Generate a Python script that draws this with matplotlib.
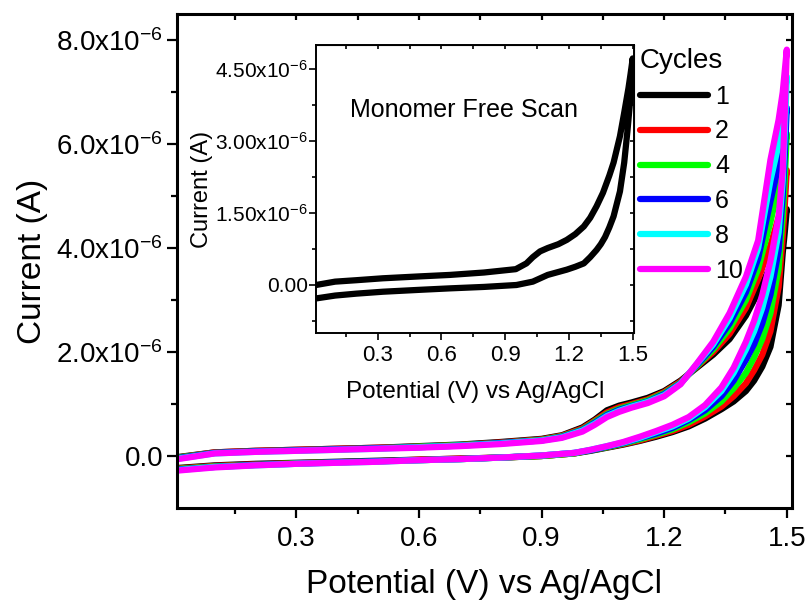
import matplotlib
matplotlib.use('Agg')
import matplotlib.pyplot as plt
import numpy as np

plt.rcParams['font.family'] = ['Liberation Sans', 'DejaVu Sans']
plt.rcParams['mathtext.fontset'] = 'custom'
plt.rcParams['mathtext.rm'] = 'Liberation Sans'
plt.rcParams['mathtext.it'] = 'Liberation Sans'
plt.rcParams['mathtext.default'] = 'regular'

# potentials (V) of the anodic and the return sweep
E_fwd = [0.01, 0.1, 0.2, 0.3, 0.4, 0.5, 0.6, 0.7, 0.8,
         0.9, 0.95, 1.0, 1.03, 1.06, 1.09, 1.12, 1.16,
         1.2, 1.24, 1.28, 1.32, 1.36, 1.40, 1.43, 1.46, 1.48, 1.49, 1.50]
E_rev = [1.50, 1.495, 1.49, 1.48, 1.46, 1.44, 1.42, 1.40, 1.37, 1.34, 1.30,
         1.26, 1.22, 1.18, 1.14, 1.10, 1.06, 1.02, 0.98, 0.9, 0.8, 0.7, 0.6,
         0.5, 0.4, 0.3, 0.2, 0.1, 0.01]

# current (uA) for each cycle
c1_fwd = [-0.02, 0.07, 0.10, 0.12, 0.14, 0.16, 0.19, 0.22, 0.27,
          0.33, 0.40, 0.55, 0.70, 0.88, 0.97, 1.03, 1.12,
          1.25, 1.45, 1.70, 1.95, 2.25, 2.70, 3.15, 3.65, 4.10, 4.40, 4.75]
c1_rev = [4.75, 4.3, 3.9, 2.9, 2.1, 1.72, 1.45, 1.25, 1.05, 0.9, 0.72,
          0.57, 0.46, 0.37, 0.29, 0.22, 0.16, 0.10, 0.05, 0.00, -0.03, -0.05,
          -0.07, -0.09, -0.11, -0.13, -0.15, -0.18, -0.23]
c2_fwd = [-0.03, 0.07, 0.10, 0.12, 0.14, 0.16, 0.18, 0.21, 0.26,
          0.32, 0.39, 0.53, 0.68, 0.84, 0.94, 1.00, 1.09,
          1.23, 1.43, 1.72, 2.00, 2.35, 2.85, 3.40, 4.05, 4.60, 5.00, 5.50]
c2_rev = [5.5, 4.8, 4.2, 3.25, 2.4, 1.95, 1.65, 1.4, 1.15, 0.95, 0.76,
          0.60, 0.48, 0.39, 0.30, 0.23, 0.17, 0.11, 0.05, 0.00, -0.03, -0.05,
          -0.07, -0.10, -0.12, -0.14, -0.16, -0.19, -0.24]
c4_fwd = [-0.03, 0.06, 0.09, 0.11, 0.13, 0.15, 0.18, 0.21, 0.25,
          0.31, 0.38, 0.51, 0.66, 0.81, 0.91, 0.98, 1.07,
          1.21, 1.41, 1.73, 2.05, 2.45, 3.00, 3.60, 4.50, 5.20, 5.65, 6.20]
c4_rev = [6.2, 5.3, 4.6, 3.6, 2.75, 2.25, 1.9, 1.6, 1.3, 1.05, 0.82,
          0.65, 0.51, 0.41, 0.32, 0.24, 0.17, 0.11, 0.05, 0.00, -0.03, -0.06,
          -0.08, -0.10, -0.12, -0.14, -0.17, -0.20, -0.25]
c6_fwd = [-0.04, 0.06, 0.09, 0.11, 0.13, 0.15, 0.17, 0.20, 0.25,
          0.30, 0.37, 0.50, 0.64, 0.79, 0.89, 0.96, 1.05,
          1.19, 1.40, 1.75, 2.10, 2.55, 3.15, 3.80, 4.90, 5.60, 6.10, 6.70]
c6_rev = [6.7, 5.8, 5.0, 3.95, 3.1, 2.55, 2.15, 1.85, 1.45, 1.15, 0.88,
          0.69, 0.54, 0.43, 0.34, 0.25, 0.18, 0.11, 0.06, 0.01, -0.03, -0.06,
          -0.08, -0.10, -0.12, -0.15, -0.17, -0.21, -0.26]
c8_fwd = [-0.05, 0.05, 0.08, 0.10, 0.12, 0.14, 0.17, 0.20, 0.24,
          0.30, 0.36, 0.49, 0.62, 0.77, 0.87, 0.95, 1.04,
          1.17, 1.39, 1.77, 2.15, 2.65, 3.30, 4.00, 5.30, 6.00, 6.60, 7.30]
c8_rev = [7.3, 6.2, 5.3, 4.3, 3.45, 2.85, 2.4, 2.05, 1.6, 1.25, 0.94,
          0.72, 0.57, 0.46, 0.35, 0.26, 0.19, 0.12, 0.06, 0.01, -0.03, -0.06,
          -0.08, -0.11, -0.13, -0.15, -0.18, -0.21, -0.27]
c10_fwd = [-0.06, 0.05, 0.08, 0.10, 0.12, 0.14, 0.16, 0.19, 0.23,
           0.29, 0.35, 0.47, 0.60, 0.75, 0.85, 0.93, 1.02,
           1.15, 1.38, 1.78, 2.20, 2.75, 3.45, 4.15, 5.70, 6.47, 7.00, 7.82]
c10_rev = [7.82, 6.6, 5.5, 4.6, 3.75, 3.1, 2.6, 2.2, 1.7, 1.32, 0.98,
           0.75, 0.60, 0.48, 0.37, 0.27, 0.19, 0.12, 0.06, 0.01, -0.03, -0.06,
           -0.08, -0.11, -0.13, -0.15, -0.18, -0.22, -0.28]

cycle_labels = ['1', '2', '4', '6', '8', '10']
cycle_colors = ['#000000', '#ff0000', '#00ff00', '#0000ff', '#00ffff', '#ff00ff']
cycles = [(c1_fwd, c1_rev), (c2_fwd, c2_rev), (c4_fwd, c4_rev),
          (c6_fwd, c6_rev), (c8_fwd, c8_rev), (c10_fwd, c10_rev)]

# monomer free scan (uA)
mono_E_fwd = [0.01, 0.1, 0.2, 0.325, 0.5, 0.64, 0.8, 0.95, 1.0, 1.03, 1.064,
              1.1, 1.15, 1.19, 1.23, 1.27, 1.30, 1.33, 1.36, 1.39, 1.41,
              1.44, 1.46, 1.48, 1.49, 1.5]
mono_I_fwd = [0.0, 0.07, 0.1, 0.14, 0.18, 0.21, 0.26, 0.33, 0.45, 0.58, 0.70,
              0.77, 0.85, 0.94, 1.06, 1.22, 1.40, 1.64, 1.92, 2.28, 2.55,
              3.1, 3.59, 4.1, 4.4, 4.72]
mono_E_rev = [1.5, 1.49, 1.475, 1.46, 1.44, 1.41, 1.39, 1.37, 1.35, 1.33,
              1.30, 1.27, 1.23, 1.19, 1.1, 1.03, 0.953, 0.8, 0.64, 0.5,
              0.325, 0.2, 0.1, 0.01]
mono_I_rev = [4.72, 3.94, 3.2, 2.55, 1.95, 1.43, 1.2, 1.0, 0.85, 0.73,
              0.58, 0.45, 0.38, 0.32, 0.21, 0.07, 0.0, -0.04, -0.07, -0.1,
              -0.14, -0.18, -0.22, -0.28]

x_ticks = [0.3, 0.6, 0.9, 1.2, 1.5]
x_labels = ['0.3', '0.6', '0.9', '1.2', '1.5']
x_minor = [0.15, 0.45, 0.75, 1.05, 1.35]
y_ticks = [0, 2e-6, 4e-6, 6e-6, 8e-6]
y_labels = ['0.0', '2.0x10$^{-6}$', '4.0x10$^{-6}$', '6.0x10$^{-6}$', '8.0x10$^{-6}$']
y_minor = [1e-6, 3e-6, 5e-6, 7e-6]
yin_ticks = [0, 1.5e-6, 3e-6, 4.5e-6]
yin_labels = ['0.00', '1.50x10$^{-6}$', '3.00x10$^{-6}$', '4.50x10$^{-6}$']
yin_minor = [-0.75e-6, 0.75e-6, 2.25e-6, 3.75e-6]

fig = plt.figure(figsize=(8.1, 6.08), dpi=100)
ax = fig.add_axes([0.2185, 0.1645, 0.7589, 0.812])

for (fwd, rev), lab, col in zip(cycles, cycle_labels, cycle_colors):
    E = E_fwd + E_rev
    I = np.array(fwd + rev) * 1e-6
    ax.plot(E, I, color=col, lw=4.5, label=lab,
            solid_capstyle='round', solid_joinstyle='round')

ax.set_xlim(0.008, 1.512)
ax.set_ylim(-1e-6, 8.5e-6)
ax.set_xticks(x_ticks, x_labels)
ax.set_xticks(x_minor, minor=True)
ax.set_yticks(y_ticks, y_labels)
ax.set_yticks(y_minor, minor=True)
ax.tick_params(which='both', direction='out', width=1.6, labelsize=20)
ax.tick_params(which='major', length=7)
ax.tick_params(which='minor', length=4)
ax.tick_params(axis='x', pad=6)
ax.tick_params(axis='y', pad=3)
for s in ax.spines.values():
    s.set_linewidth(2.2)
ax.set_xlabel('Potential (V) vs Ag/AgCl', fontsize=24)
ax.set_ylabel('Current (A)', fontsize=24)
ax.xaxis.set_label_coords(0.5, -0.123)
ax.yaxis.set_label_coords(-0.21, 0.5)

# mirrored ticks on top and right
top = ax.secondary_xaxis('top')
top.set_xticks(x_ticks, [])
top.set_xticks(x_minor, minor=True)
top.tick_params(which='both', direction='in', width=1.6, length=4)
right = ax.secondary_yaxis('right')
right.set_yticks(y_ticks, [])
right.set_yticks(y_minor, minor=True)
right.tick_params(which='both', direction='in', width=1.6, length=4)

leg = ax.legend(title='Cycles', frameon=False, fontsize=18, title_fontsize=20,
                handlelength=2.7, handletextpad=0.3, labelspacing=0.43,
                borderpad=0, borderaxespad=0, alignment='left', loc='upper left',
                bbox_to_anchor=(640 / 810, 1 - 48 / 608),
                bbox_transform=fig.transFigure)
for h in leg.legend_handles:
    h.set_linewidth(4.5)

# inset: monomer free scan
axi = fig.add_axes([0.3901, 0.4523, 0.3926, 0.4737])
axi.plot(mono_E_fwd + mono_E_rev, np.array(mono_I_fwd + mono_I_rev) * 1e-6,
         color='black', lw=4.5, solid_capstyle='round', solid_joinstyle='round')
axi.set_xlim(0.01, 1.506)
axi.set_ylim(-1e-6, 5e-6)
axi.set_xticks(x_ticks, x_labels)
axi.set_xticks(x_minor, minor=True)
axi.set_yticks(yin_ticks, yin_labels)
axi.set_yticks(yin_minor, minor=True)
axi.tick_params(which='both', direction='out', width=1.2, labelsize=16)
axi.tick_params(axis='y', labelsize=15, pad=1)
axi.tick_params(which='major', length=5)
axi.tick_params(which='minor', length=3)
for s in axi.spines.values():
    s.set_linewidth(1.4)
axi.set_xlabel('Potential (V) vs Ag/AgCl', fontsize=17.5)
axi.set_ylabel('Current (A)', fontsize=17)
axi.xaxis.set_label_coords(0.5, -0.167)
axi.yaxis.set_label_coords(-0.325, 0.5)
axi.text(0.465, 0.774, 'Monomer Free Scan', transform=axi.transAxes,
         ha='center', va='center', fontsize=18)
itop = axi.secondary_xaxis('top')
itop.set_xticks(x_ticks, [])
itop.set_xticks(x_minor, minor=True)
itop.tick_params(which='both', direction='in', width=1.2, length=3)
iright = axi.secondary_yaxis('right')
iright.set_yticks(yin_ticks, [])
iright.set_yticks(yin_minor, minor=True)
iright.tick_params(which='both', direction='in', width=1.2, length=3)

fig.savefig('out.png', dpi=100)
